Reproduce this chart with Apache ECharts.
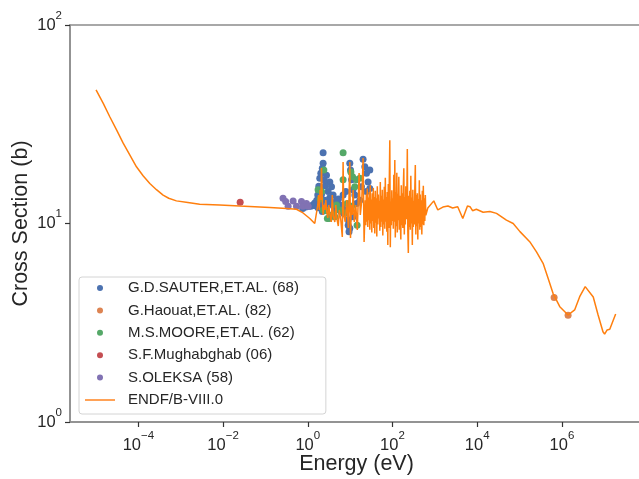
<!DOCTYPE html>
<html><head><meta charset="utf-8">
<script src="https://cdn.jsdelivr.net/npm/echarts@6/dist/echarts.min.js"></script>
<style>html,body{margin:0;padding:0;background:#fff}#c{width:639px;height:479px}</style>
</head><body><div id="c"></div>
<script>
// ---- tick labels ----
const xTicks = [1e-4, 1e-2, 1, 1e2, 1e4, 1e6];
const xTickExp = ['\u22124', '\u22122', '0', '2', '4', '6'];
const yTicks = [1, 10, 100];
const yTickExp = ['0', '1', '2'];

// ---- series names ----
const seriesNames = ['G.D.SAUTER,ET.AL. (68)', 'G.Haouat,ET.AL. (82)', 'M.S.MOORE,ET.AL. (62)', 'S.F.Mughabghab (06)', 'S.OLEKSA (58)', 'ENDF/B-VIII.0'];

// ---- G.D.SAUTER (energy eV, cross section b) ----
const sauterE = [0.76,0.90,1.06,1.18,1.31,1.46,1.63,1.72,1.82,1.92,2.03,2.11,2.30,2.30,2.2,2.0,2.1,1.9,2.5,2.0,2.4,2.2,2.76,3.31,3.63,3.02,3.96,4.76,5.70,6.82,7.89,4.34,8.20,9.81,10.2,10.8,11.7,12.9,8.94,9.81,14.1,20.2,22.2,24.3,29.1,26.5,29.1,24.3,18.5,16.9,11.7,3.5,4.0,4.5,5.0,5.3,6.0,6.5,7.2,3.0,3.3,9.4,9.0,2.6,2.9,1.5,1.75,2.45];
const sauterS = [11.9,12.1,12.2,12.2,12.4,12.7,13.1,13.9,15.4,16.9,17.9,17.9,22.7,20.1,19.0,15.0,14.0,13.3,13.1,12.6,12.0,11.5,17.5,16.2,15.3,14.5,13.9,13.1,12.4,13.9,14.5,11.9,11.7,20.1,18.6,16.6,14.8,13.9,10.4,9.46,12.6,21.1,19.3,17.9,18.6,16.2,15.0,14.5,15.3,13.1,10.8,12.8,12.3,12.6,11.8,13.3,11.5,12.0,11.2,12.5,13.5,9.1,9.8,15.5,13.0,12.3,12.0,16.5];

// ---- G.Haouat ----
const haouatE = [6.55e5, 1.40e6];
const haouatS = [4.24, 3.45];

// ---- M.S.MOORE ----
const mooreE = [1.75,2.39,2.11,2.30,2.76,3.31,4.34,3.96,4.76,5.70,6.82,6.82,7.5,10.4,11.4,14.1,16.9,12.9,14.6,10.8,2.9,3.6,3.19,1.95,8.5];
const mooreS = [14.8,18.6,14.5,11.7,11.6,10.8,10.8,11.1,12.4,11.7,16.6,22.7,11.3,18.2,17.2,16.6,16.9,15.3,9.8,12.2,10.6,11.0,10.6,13.3,12.6];

// ---- S.F.Mughabghab ----
const mughE = [0.0253];
const mughS = [12.8];

// ---- S.OLEKSA ----
const oleksaE = [0.26,0.343,0.45,0.54,0.71,0.77,0.93,1.02,0.30];
const oleksaS = [13.4,12.2,13.0,12.2,12.9,12.2,12.6,12.2,12.9];

// ---- ENDF/B-VIII.0 : thermal part ----
const endfLowE = [1e-5,1.48e-5,2.11e-5,3.05e-5,4.37e-5,6.3e-5,9.0e-5,1.29e-4,1.86e-4,2.67e-4,3.83e-4,5.2e-4,7.9e-4,1.47e-3,2.8e-3,8.3e-3,0.0245,0.127,0.314,0.54,0.774,1.115,1.46,1.605];
const endfLowS = [47.1,40.3,34.5,29.6,25.4,22.1,19.3,17.4,15.9,14.8,13.9,13.4,13.0,12.75,12.5,12.4,12.25,12.05,11.9,11.8,11.3,10.6,10.0,9.9];

// ---- ENDF/B-VIII.0 : resolved resonances ----
const endfResE = [
1.722,1.799,1.869,1.951,2.028,2.106,2.200,2.298,2.387,2.520,
2.661,2.810,2.967,3.132,3.307,3.588,3.789,4.001,4.341,4.583,
4.839,5.251,5.544,6.016,6.527,6.817,7.082,7.684,8.337,9.046,
9.81,10.19,10.64,11.24,11.74,12.53,13.60,14.75,16.27,17.36,
18.84,20.22,21.35,
22.79,23.42,24.06,24.73,25.41,26.11,26.83,27.57,28.33,29.11,
29.92,30.74,31.59,32.46,33.36,34.27,35.22,36.19,37.19,38.21,
39.27,40.35,41.46,42.60,43.78,44.98,46.22,47.49,48.80,50.15,
51.53,52.95,54.41,55.91,57.45,59.04,60.66,62.34,64.05,65.82,
67.64,69.50,71.42,73.38,75.41,77.49,79.62,81.82,84.07,86.39,
88.77,91.22,93.73,96.32,98.97,101.7,104.5,107.4,110.4,113.4,
116.5,119.7,123.0,126.4,129.9,133.5,137.2,141.0,144.9,148.9,
153.0,157.2,161.5,166.0,170.5,175.2,180.1,185.0,190.1,195.4,
200.8,206.3,212.0,217.8,223.8,230.0,236.4,242.9,249.6,256.4,
263.5,270.8,278.2,285.9,293.8,301.9,310.2,318.7,327.5,336.6,
345.8,355.4,365.2,375.2,385.6,396.2,407.1,418.3,429.9,441.7,
453.9,466.4,479.3,492.5,506.0,520.0,534.3,549.1,564.2,579.7,
595.7,612.1,681.6];
const endfResS = [
12.40,13.92,11.70,14.75,13.14,19.04,13.14,11.04,12.40,11.70,
13.14,11.43,10.66,12.40,11.17,10.18,13.92,10.91,10.18,12.40,
10.66,9.71,11.70,10.41,8.55,20.41,11.04,10.18,13.14,9.49,
20.41,8.45,12.40,11.04,14.75,10.18,12.40,9.27,17.97,11.04,
13.14,21.38,8.07,
13.1,9.8,14.0,10.2,15.0,9.6,13.5,10.4,14.4,9.3,
15.6,10.0,13.2,9.0,14.2,10.3,15.1,9.5,13.6,8.9,
14.6,10.1,13.4,8.6,15.4,9.9,14.0,10.6,13.0,9.2,
16.2,9.6,13.8,10.2,14.8,8.7,13.2,9.9,15.3,9.4,
17.0,10.2,13.6,9.1,14.4,7.8,15.8,9.5,16.6,26.3,
7.6,12.9,9.8,14.7,10.3,13.4,9.4,17.6,10.2,20.9,
8.5,14.4,9.7,18.0,9.0,14.1,10.4,17.2,9.3,13.8,
10.1,8.3,15.6,9.8,14.2,9.5,15.2,19.0,8.8,13.6,
9.9,15.4,10.5,13.2,23.7,9.2,7.1,13.8,9.6,14.6,
9.3,17.4,10.0,13.5,7.8,14.8,9.6,13.0,9.9,15.0,
19.7,8.8,13.9,9.7,14.2,8.3,13.3,10.0,16.5,9.3,
14.0,9.6,13.1,8.8,14.6,9.9,15.5,9.8,13.4,10.3,
13.9,11.0,11.97];

// ---- ENDF/B-VIII.0 : unresolved / fast part ----
const endfHighE = [944,1175,1549,2042,2630,3467,4571,5888,6761,7762,9550,13800,19950,28580,48980,70790,102300,173800,251200,359700,472100,616600,891300,1.40e6,2.0e6,2.63e6,3.55e6,5.5e6,7.16e6,9.33e6,1.02e7,1.17e7,1.35e7,1.86e7];
const endfHighS = [13.0,11.7,12.1,12.25,11.97,12.15,10.6,12.25,12.15,11.6,11.8,11.4,11.5,11.25,10.4,10.0,9.1,8.1,7.2,6.3,5.3,4.45,3.81,3.46,3.67,4.28,4.81,4.26,3.46,2.85,2.77,2.91,2.93,3.50];

const endfE = endfLowE.concat(endfResE, endfHighE);
const endfS = endfLowS.concat(endfResS, endfHighS);

const colors = ['#4c72b0', '#dd8452', '#55a868', '#c44e52', '#8172b3', '#ff7f0e'];
const FONT = '"Liberation Sans", Arial, sans-serif';
const TXT = '#262626';

function pairs(xs, ys) { return xs.map((x, i) => [x, ys[i]]); }
function supFormatter(ticks, exps) {
  return function (v) {
    const i = ticks.findIndex(t => Math.abs(Math.log10(t) - Math.log10(v)) < 1e-6);
    return i < 0 ? '' : '{b|10}{s|' + exps[i] + '}';
  };
}
const rich = {
  b: { fontSize: 16.5, fontFamily: FONT, color: TXT, lineHeight: 24, verticalAlign: 'bottom' },
  s: { fontSize: 11.5, fontFamily: FONT, color: TXT, lineHeight: 12, verticalAlign: 'top' }
};

const chart = echarts.init(document.getElementById('c'), null, { renderer: 'canvas' });
const scatterData = [[sauterE, sauterS], [haouatE, haouatS], [mooreE, mooreS], [mughE, mughS], [oleksaE, oleksaS]];
const series = scatterData.map((d, k) => ({
  name: seriesNames[k], type: 'scatter', data: pairs(d[0], d[1]),
  symbol: 'circle', symbolSize: 7, itemStyle: { color: colors[k], opacity: 1 }, z: 2 + k
}));
series.push({
  name: seriesNames[5], type: 'line', data: pairs(endfE, endfS), symbol: 'none', showSymbol: false,
  lineStyle: { color: colors[5], width: 1.5 }, itemStyle: { color: colors[5] }, z: 10
});

const legendData = seriesNames.map((n, k) => k === 5
  ? { name: n, icon: 'path://M0,0L30,0L30,2L0,2Z', itemStyle: { color: '#ffa257' } }
  : { name: n, icon: 'circle' });

chart.setOption({
  animation: false,
  backgroundColor: '#ffffff',
  color: colors,
  grid: { left: 70, right: -4, top: 25, bottom: 57, show: true, borderColor: '#8c8c8c', borderWidth: 1.5, containLabel: false, outerBoundsMode: 'none' },
  xAxis: {
    type: 'log', logBase: 10, min: Math.pow(10, -5.615), max: Math.pow(10, 7.915),
    name: 'Energy (eV)', nameLocation: 'middle', nameGap: 31, nameMoveOverlap: false,
    nameTextStyle: { fontSize: 21.5, fontFamily: FONT, color: TXT },
    axisLine: { show: true, lineStyle: { color: '#8c8c8c', width: 1.5 } },
    axisTick: { show: true, length: 5, lineStyle: { color: '#333', width: 1.2 }, customValues: xTicks },
    axisLabel: { show: true, margin: 8, fontSize: 16.5, fontFamily: FONT, color: TXT, formatter: supFormatter(xTicks, xTickExp), rich: rich, customValues: xTicks },
    splitLine: { show: false }, minorTick: { show: false }
  },
  yAxis: {
    type: 'log', logBase: 10, min: 1, max: 100,
    name: 'Cross Section (b)', nameLocation: 'middle', nameGap: 38, nameRotate: 90, nameMoveOverlap: false,
    nameTextStyle: { fontSize: 21.5, fontFamily: FONT, color: TXT },
    axisLine: { show: true, lineStyle: { color: '#8c8c8c', width: 1.5 } },
    axisTick: { show: true, length: 5, lineStyle: { color: '#333', width: 1.2 }, customValues: yTicks },
    axisLabel: { show: true, margin: 8, fontSize: 16.5, fontFamily: FONT, color: TXT, padding: [0, 0, 7, 0], formatter: supFormatter(yTicks, yTickExp), rich: rich, customValues: yTicks },
    splitLine: { show: false }, minorTick: { show: false }
  },
  legend: {
    orient: 'vertical', left: 79, top: 277,
    data: legendData,
    itemWidth: 30, itemHeight: 6, itemGap: 0.4,
    padding: [0, 27, 3, 6],
    textStyle: { fontSize: 15, fontFamily: FONT, color: TXT, lineHeight: 22, padding: [0, 0, 0, 8] },
    backgroundColor: 'rgba(255,255,255,0.8)', borderColor: '#d4d4d4', borderWidth: 1, borderRadius: 3
  },
  series: series
});
</script>
</body></html>
